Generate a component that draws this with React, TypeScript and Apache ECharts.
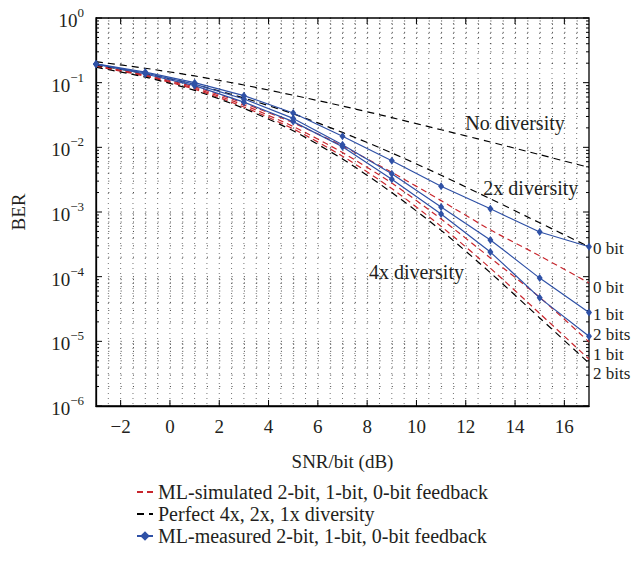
import React, { useEffect, useRef } from "react";
import * as echarts from "echarts";

const snr = [-3, -1, 1, 3, 5, 7, 9, 11, 13, 15, 17];

// Perfect diversity (black dashed)
const perfect1x = [0.211, 0.167, 0.127, 0.092, 0.064, 0.0435, 0.0288, 0.0187, 0.0121, 0.0077, 0.0049];
const perfect2x = [0.187, 0.138, 0.094, 0.058, 0.033, 0.017, 0.0082, 0.0037, 0.0016, 0.00068, 0.00029];
const perfect4x = [0.173, 0.122, 0.076, 0.04, 0.018, 0.0066, 0.002, 0.00052, 0.000115, 0.000023, 0.0000046];

// ML-simulated (red dashed)
const sim2bit = [0.178, 0.126, 0.079, 0.042, 0.0193, 0.0073, 0.0023, 0.0006, 0.000135, 0.000027, 0.0000053];
const sim1bit = [0.18, 0.129, 0.082, 0.045, 0.021, 0.0083, 0.0028, 0.00078, 0.000195, 0.000048, 0.0000098];
const sim0bit = [0.184, 0.132, 0.086, 0.048, 0.024, 0.0105, 0.0041, 0.0015, 0.00053, 0.00021, 0.00008];

// ML-measured (blue, markers)
const meas0bit = [0.195, 0.146, 0.1, 0.063, 0.034, 0.0148, 0.0062, 0.0025, 0.00112, 0.00049, 0.00029];
const meas1bit = [0.194, 0.141, 0.095, 0.056, 0.028, 0.011, 0.0039, 0.0012, 0.00037, 0.000095, 0.000028];
const meas2bit = [0.193, 0.136, 0.09, 0.05, 0.025, 0.0102, 0.0032, 0.00093, 0.00024, 0.000047, 0.000012];

const legendNames = [
  "ML-simulated 2-bit, 1-bit, 0-bit feedback",
  "Perfect 4x, 2x, 1x diversity",
  "ML-measured 2-bit, 1-bit, 0-bit feedback",
];

const xMin = -3;
const xMax = 17;
const yMin = 1e-6;
const yMax = 1;
const decades = [-6, -5, -4, -3, -2, -1];
const mantissas = [1, 2, 3, 4, 5, 6, 7, 8, 9];

const annotations = [
  { text: "No diversity", x: 14.0, y: 0.024, align: "center", dx: 0, size: 20 },
  { text: "2x diversity", x: 14.64, y: 0.00236, align: "center", dx: 0, size: 20 },
  { text: "4x diversity", x: 10.0, y: 0.00012, align: "center", dx: 0, size: 20 },
  { text: "0 bit", x: 17, y: 0.00027, align: "left", dx: 4, size: 17 },
  { text: "0 bit", x: 17, y: 0.000069, align: "left", dx: 4, size: 17 },
  { text: "1 bit", x: 17, y: 0.0000257, align: "left", dx: 4, size: 17 },
  { text: "2 bits", x: 17, y: 0.0000126, align: "left", dx: 4, size: 17 },
  { text: "1 bit", x: 17, y: 0.0000063, align: "left", dx: 4, size: 17 },
  { text: "2 bits", x: 17, y: 0.0000032, align: "left", dx: 4, size: 17 },
];

const FONT = "Liberation Serif, DejaVu Serif, serif";
const TEXT = "#231f20";
const RED = "#c8262d";
const BLUE = "#2f51a6";

const yGrid: number[][] = [];
decades.forEach((d) => mantissas.forEach((m) => yGrid.push([xMin, m * Math.pow(10, d), m === 1 ? 1 : 0])));
yGrid.push([xMin, 1, 1]);
const xGrid: number[][] = [];
for (let v = xMin + 0.5; v < xMax; v += 0.5) xGrid.push([v, yMin, Math.abs(v % 2) === 0 ? 1 : 0]);

const DOT_V = { stroke: "#000", lineWidth: 1, lineDash: [1, 4], opacity: 0.55 };
const DOT_H = { stroke: "#000", lineWidth: 1, lineDash: [1, 11.325], opacity: 0.75 };
const TICK = { stroke: "#000", lineWidth: 1 };

const pair = (ys: number[]) => snr.map((x, i) => [x, ys[i]]);

const dashed = (name: string, color: string, ys: number[], dash: number[]) => ({
  name,
  type: "line",
  data: pair(ys),
  symbol: "none",
  smooth: 0.25,
  lineStyle: { color, width: 1.2, type: dash },
  itemStyle: { color },
  z: 3,
});

const measured = (ys: number[]) => ({
  name: legendNames[2],
  type: "line",
  data: pair(ys),
  symbol: "diamond",
  symbolSize: [6, 8],
  lineStyle: { color: BLUE, width: 1.2 },
  itemStyle: { color: BLUE },
  z: 4,
});

const fmtX = (v: number) => (v % 2 === 0 ? String(v).replace("-", "\u2212") : "");
const fmtY = (v: number) => {
  const e = Math.round(Math.log10(v));
  return `{b|10}{s|${String(e).replace("-", "\u2212")}}`;
};

const option: any = {
  animation: false,
  backgroundColor: "#fff",
  grid: { left: 96, right: 51, top: 18, bottom: 161, show: true, borderColor: "#000", borderWidth: 1.3, backgroundColor: "transparent" },
  xAxis: {
    type: "value",
    min: xMin,
    max: xMax,
    interval: 1,
    name: "SNR/bit (dB)",
    nameLocation: "middle",
    nameGap: 46,
    nameTextStyle: { fontFamily: FONT, fontSize: 19, color: TEXT },
    axisLine: { onZero: false, lineStyle: { color: "#000", width: 1.3 } },
    axisTick: { show: false },
    splitLine: { show: false },
    axisLabel: { formatter: fmtX, fontFamily: FONT, fontSize: 19, color: TEXT, margin: 11, showMinLabel: true, showMaxLabel: true },
  },
  yAxis: {
    type: "log",
    logBase: 10,
    min: yMin,
    max: yMax,
    splitNumber: 6,
    name: "BER",
    nameLocation: "middle",
    nameGap: 68,
    nameTextStyle: { fontFamily: FONT, fontSize: 19, color: TEXT },
    axisLine: { onZero: false, lineStyle: { color: "#000", width: 1.3 } },
    axisTick: { show: false },
    splitLine: { show: false },
    axisLabel: {
      formatter: fmtY,
      margin: 12,
      rich: {
        b: { fontFamily: FONT, fontSize: 19, color: TEXT, lineHeight: 24, verticalAlign: "bottom" },
        s: { fontFamily: FONT, fontSize: 13, color: TEXT, verticalAlign: "top" },
      },
    },
  },
  legend: {
    orient: "vertical",
    left: 131,
    top: 477,
    itemWidth: 16,
    itemHeight: 12,
    itemGap: 2,
    data: [
      { name: legendNames[0], itemStyle: { opacity: 0 } },
      { name: legendNames[1], itemStyle: { opacity: 0 } },
      { name: legendNames[2] },
    ],
    textStyle: { fontFamily: FONT, fontSize: 20, color: TEXT },
  },
  series: [
    {
      type: "custom",
      silent: true,
      z: 1,
      data: yGrid,
      renderItem: (params: any, api: any) => {
        const p = api.coord([xMin, api.value(1)]);
        const cs = params.coordSys;
        const len = api.value(2) ? 6 : 3;
        return {
          type: "group",
          children: [
            { type: "line", shape: { x1: cs.x, y1: p[1], x2: cs.x + cs.width, y2: p[1] }, style: DOT_H },
            { type: "line", shape: { x1: cs.x, y1: p[1], x2: cs.x + len, y2: p[1] }, style: TICK },
            { type: "line", shape: { x1: cs.x + cs.width - len, y1: p[1], x2: cs.x + cs.width, y2: p[1] }, style: TICK },
          ],
        };
      },
    },
    {
      type: "custom",
      silent: true,
      z: 1,
      data: xGrid,
      renderItem: (params: any, api: any) => {
        const p = api.coord([api.value(0), yMin]);
        const cs = params.coordSys;
        const children: any[] = [
          { type: "line", shape: { x1: p[0], y1: cs.y, x2: p[0], y2: cs.y + cs.height }, style: DOT_V },
        ];
        if (api.value(2)) {
          children.push({ type: "line", shape: { x1: p[0], y1: cs.y + cs.height - 6, x2: p[0], y2: cs.y + cs.height }, style: TICK });
          children.push({ type: "line", shape: { x1: p[0], y1: cs.y, x2: p[0], y2: cs.y + 6 }, style: TICK });
        }
        return { type: "group", children };
      },
    },
    dashed(legendNames[0], RED, sim2bit, [6, 4]),
    dashed(legendNames[0], RED, sim1bit, [6, 4]),
    dashed(legendNames[0], RED, sim0bit, [6, 4]),
    dashed(legendNames[1], "#000", perfect4x, [7, 5]),
    dashed(legendNames[1], "#000", perfect2x, [7, 5]),
    dashed(legendNames[1], "#000", perfect1x, [7, 5]),
    measured(meas2bit),
    measured(meas1bit),
    measured(meas0bit),
  ],
};

export default function App() {
  const ref = useRef<HTMLDivElement>(null);
  useEffect(() => {
    const chart = echarts.init(ref.current!, null, { renderer: "svg" });
    chart.setOption(option);
    const graphic = annotations.map((a) => {
      const p = chart.convertToPixel({ xAxisIndex: 0, yAxisIndex: 0 }, [a.x, a.y]) as number[];
      return {
        type: "text",
        x: p[0] + a.dx,
        y: p[1],
        z: 10,
        silent: true,
        style: { text: a.text, fill: TEXT, fontFamily: FONT, fontSize: a.size, lineHeight: 15, align: a.align, verticalAlign: "middle" },
      };
    });
    chart.setOption({ graphic });
    return () => chart.dispose();
  }, []);
  return <div ref={ref} style={{ position: "fixed", left: 0, top: 0, width: 640, height: 567 }} />;
}
